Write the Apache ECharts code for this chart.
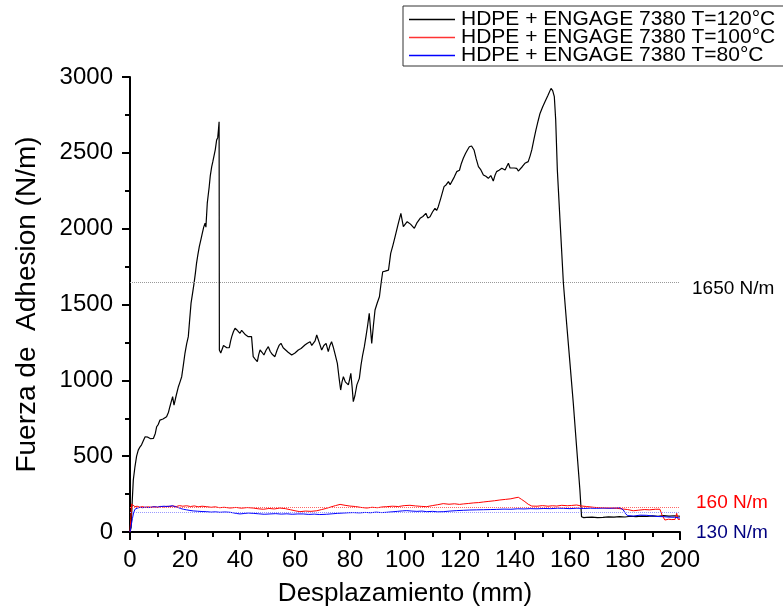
<!DOCTYPE html>
<html>
<head>
<meta charset="utf-8">
<script src="https://cdn.jsdelivr.net/npm/echarts@6/dist/echarts.min.js"></script>
<style>
  html, body { margin: 0; padding: 0; background: #fff; }
  #chart { width: 783px; height: 609px; }
</style>
</head>
<body>
<div id="chart"></div>
<script>
// Series names (legend)
const seriesNames = [
  'HDPE + ENGAGE 7380 T=120°C',
  'HDPE + ENGAGE 7380 T=100°C',
  'HDPE + ENGAGE 7380 T=80°C'
];

// Reference levels (N/m)
const refLevels = [1650, 160, 130];
const refLabels = ['1650 N/m', '160 N/m', '130 N/m'];

// T=120°C  [displacement mm, force N/m]
const black120 = [
  [0,0],[0.4,30],[0.8,200],[1.2,343],[1.8,430],[2.4,500],[3,540],[3.6,560],[4.2,575],[4.8,600],
  [5.5,628],[6.5,625],[7.5,615],[8.5,617],[9.2,650],[9.7,694],[10.3,710],[10.9,738],[12,745],[13.3,760],
  [14,790],[14.5,826],[15,860],[15.5,892],[16,837],[16.8,900],[17.6,958],[18.2,990],[18.8,1024],[19.4,1100],
  [20,1180],[20.6,1240],[21.2,1288],[21.7,1400],[22.2,1509],[22.8,1580],[23.3,1641],[23.8,1710],[24.2,1773],[24.7,1830],
  [25.2,1881],[25.8,1930],[26.3,1970],[26.8,2010],[27.3,2036],[27.6,2010],[28.1,2168],[28.5,2230],[28.8,2276],[29.2,2350],
  [29.7,2408],[30.1,2440],[30.5,2452],[31,2520],[31.5,2584],[31.9,2600],[32.2,2660],[32.4,2705],[32.5,1200],[33,1180],
  [33.6,1190],[34,1230],[34.5,1222],[35.2,1215],[36.1,1215],[36.6,1260],[37,1288],[37.6,1320],[38.2,1343],[39,1330],
  [40,1310],[40.6,1330],[41.2,1343],[42,1300],[43,1288],[43.6,1300],[44.2,1288],[44.8,1156],[45.5,1140],[46.3,1123],
  [46.8,1170],[47.3,1200],[48,1185],[48.7,1167],[49.5,1200],[50.3,1222],[51,1190],[51.8,1170],[52.7,1156],[53.5,1200],
  [54.2,1230],[54.9,1244],[55.7,1215],[56.6,1200],[57.5,1185],[58.8,1167],[60,1180],[61.2,1200],[62.2,1210],[63.6,1233],
  [64.5,1245],[65.5,1255],[66.1,1230],[66.7,1222],[67.3,1260],[67.9,1299],[68.8,1250],[69.7,1200],[70.5,1230],[71.3,1244],
  [72.1,1189],[72.7,1230],[73.3,1255],[73.9,1220],[74.5,1178],[75.4,1112],[76,1020],[76.6,936],[77.1,990],[77.6,1024],
  [78.3,990],[79.4,970],[79.9,1010],[80.3,1046],[80.8,950],[81.2,859],[81.8,900],[82.5,970],[83.4,1013],[84,1100],
  [84.6,1167],[85.2,1220],[85.8,1288],[86.4,1360],[87,1442],[87.5,1330],[87.9,1244],[88.5,1360],[89.1,1464],[89.9,1510],
  [90.7,1551],[91.3,1640],[91.9,1716],[92.8,1720],[94,1727],[94.8,1837],[95.6,1890],[96.4,1947],[97.5,2030],[98.5,2101],
  [99.4,2013],[100.1,2030],[100.8,2046],[102,2030],[103.4,2002],[104.4,2040],[105.5,2068],[106.5,2080],[107.6,2101],[108.3,2070],
  [109.1,2079],[110,2110],[110.9,2134],[111.5,2120],[112.1,2145],[113,2200],[114.2,2277],[115,2290],[115.8,2310],[116.4,2290],
  [117,2299],[117.9,2340],[118.8,2376],[119.8,2385],[120.5,2430],[121.2,2464],[122,2495],[122.7,2519],[123.4,2540],[124.2,2545],
  [125.1,2519],[125.9,2460],[126.7,2409],[127.6,2387],[128.5,2354],[129.4,2345],[130.3,2332],[131.2,2350],[132.1,2314],[132.7,2350],
  [133.3,2376],[134.2,2385],[135.2,2398],[136.4,2387],[137,2410],[137.6,2431],[138.2,2400],[138.8,2387],[139.7,2400],[140.6,2398],
  [141.2,2380],[141.8,2376],[142.7,2410],[143.6,2431],[144.8,2442],[145.5,2480],[146.1,2519],[146.9,2590],[147.6,2650],[148.4,2710],
  [149.1,2760],[150,2800],[150.9,2837],[152,2880],[153.1,2925],[153.7,2910],[154.3,2870],[154.8,2716],[155.4,2386],[156.5,2010],
  [157.6,1640],[158.8,1370],[160,1110],[161.2,849],[162.4,560],[163.6,277],[164.2,101],[165,95],[166,96],[168,98],
  [170,95],[172,97],[174,100],[176,98],[178,101],[180,99],[182,104],[184,102],[186,105],[188,103],
  [190,106],[192,104],[194,108],[196,105],[198,107],[200,104]
];

// T=100°C
const red100 = [
  [0,0],[0.3,90],[0.6,184],[1,175],[1.8,167],[2.6,170],[3.6,163],[4.5,168],[5.5,162],[6.5,166],
  [7.6,163],[8.8,167],[10,163],[11.2,169],[12.4,165],[13.5,170],[14.5,167],[15.6,172],[16.8,168],[18,174],
  [19.2,170],[20.6,173],[22,168],[23.4,172],[24.8,166],[26.2,170],[27.9,167],[29.5,163],[31,166],[32.6,160],
  [34.2,163],[36.4,158],[38.5,162],[40.5,157],[42.6,161],[44.8,158],[46.6,153],[48.5,150],[50.5,155],[52.5,152],
  [54.5,158],[56.5,154],[58.3,147],[60,140],[61.8,134],[63.8,138],[65.8,136],[67.9,140],[69.7,148],[71.5,156],
  [73,165],[74.7,174],[76.4,182],[78.2,176],[80,171],[82,168],[84,162],[86.1,158],[88,163],[90,160],
  [91.6,165],[93.3,167],[95.4,170],[97.6,168],[99.7,174],[101.8,176],[103.8,172],[105.9,169],[107.9,167],[109.9,174],
  [111.9,180],[113.9,187],[116,183],[118,186],[119.8,182],[121.2,185],[123,188],[125,192],[126.8,194],[128.5,198],
  [130.5,202],[132.5,206],[134.5,211],[136.5,215],[138.5,219],[140,225],[141.2,229],[142.4,215],[143.6,200],[144.8,183],
  [146.1,171],[148,170],[150,174],[152,170],[153.6,173],[155.2,171],[157,176],[159,173],[160.6,175],[162.4,178],
  [164,172],[166,168],[168.5,163],[170.5,160],[172.8,158],[175,157],[177,156],[179,152],[181,148],[183,140],
  [185,144],[187,148],[189,146],[191,150],[192.7,150],[193.5,110],[194.5,79],[195.8,84],[197,82],[198.2,83],
  [198.8,123],[199.3,83],[200,84]
];

// T=80°C
const blue80 = [
  [0,0],[0.4,10],[0.9,90],[1.3,125],[1.8,150],[2.6,157],[3.6,163],[4.6,160],[5.6,164],[6.6,161],
  [7.6,163],[8.8,166],[10,164],[11.2,168],[12.4,170],[13.5,168],[14.5,171],[15.4,173],[16.3,167],[17.4,162],
  [18.4,155],[19.4,150],[20.6,146],[21.8,142],[23,139],[24.6,137],[26.2,135],[27.9,134],[29.5,131],[31,133],
  [32.7,130],[34.5,132],[36.4,130],[37.6,126],[38.8,122],[40,119],[41.5,122],[43,125],[44.8,123],[46.8,120],
  [48.8,117],[50.9,119],[53,121],[55,118],[57,120],[59,117],[61,119],[63,119],[65,116],[67,118],
  [69,115],[71.5,117],[73.5,120],[75.5,123],[77.5,125],[79.5,127],[81.2,128],[83.5,126],[85.5,129],[87.5,127],
  [89.5,131],[91.5,128],[93.3,130],[95.3,133],[97.2,136],[99,139],[100.6,141],[102.5,138],[104.3,136],[106.2,138],
  [107.9,134],[110,136],[111.9,133],[113.9,134],[116.4,138],[118.8,141],[121.2,143],[123.6,145],[126,146],[128.5,147],
  [131,148],[133.3,149],[136,151],[138.5,150],[141,153],[143.3,152],[145.5,154],[148,153],[150.5,155],[153,154],
  [155.5,157],[157.6,156],[160,154],[162.5,157],[165,155],[167.4,157],[169.7,156],[172,158],[174.5,157],[176.5,159],
  [178.2,160],[179.4,145],[180.2,120],[181,108],[183,105],[185.5,111],[187.9,110],[190,106],[192,102],[194,101],
  [196,98],[198,97],[199.3,94],[200,92]
];

const FONT = '"Liberation Sans", Arial, sans-serif';

function refLine(value, label, lineColor, textColor, fontSize, offset) {
  return {
    yAxis: value,
    lineStyle: { color: lineColor, type: 'dotted', width: 1 },
    label: {
      show: true,
      position: 'end',
      formatter: label,
      color: textColor,
      fontSize: fontSize,
      fontFamily: FONT,
      distance: 12,
      offset: offset
    }
  };
}

const chart = echarts.init(document.getElementById('chart'));

chart.setOption({
  animation: false,
  backgroundColor: '#fff',
  grid: { left: 130, right: 103, top: 77, bottom: 77, containLabel: false, outerBoundsMode: 'none' },
  legend: {
    orient: 'vertical',
    left: 403,
    top: 6,
    padding: [3, 10, 0, 6],
    icon: 'rect',
    itemWidth: 46,
    itemHeight: 1.5,
    itemGap: -3,
    borderColor: '#333',
    borderWidth: 1,
    textStyle: { fontSize: 21, fontFamily: FONT, color: '#000', padding: [0, 0, 0, 1] },
    data: [
      { name: seriesNames[0], itemStyle: { color: '#000' } },
      { name: seriesNames[1], itemStyle: { color: '#ff3333' } },
      { name: seriesNames[2], itemStyle: { color: '#0000ff' } }
    ]
  },
  xAxis: {
    type: 'value',
    min: 0,
    max: 200,
    interval: 20,
    name: 'Desplazamiento (mm)',
    nameLocation: 'middle',
    nameGap: 49,
    nameTextStyle: { fontSize: 26, fontFamily: FONT, color: '#000' },
    axisLine: { onZero: false, lineStyle: { color: '#000', width: 2 } },
    axisTick: { length: 8, lineStyle: { color: '#000', width: 2 } },
    minorTick: { show: true, splitNumber: 2, length: 5, lineStyle: { color: '#000', width: 2 } },
    axisLabel: { fontSize: 24, fontFamily: FONT, color: '#000', margin: 16 },
    splitLine: { show: false }
  },
  yAxis: {
    type: 'value',
    min: 0,
    max: 3000,
    interval: 500,
    name: 'Fuerza de  Adhesion (N/m)',
    nameLocation: 'middle',
    nameGap: 89,
    nameTextStyle: { fontSize: 28, fontFamily: FONT, color: '#000' },
    axisLine: { show: true, onZero: false, lineStyle: { color: '#000', width: 2 } },
    axisTick: { length: 8, lineStyle: { color: '#000', width: 2 } },
    minorTick: { show: true, splitNumber: 2, length: 5, lineStyle: { color: '#000', width: 2 } },
    axisLabel: { fontSize: 24, fontFamily: FONT, color: '#000', margin: 17, formatter: v => String(v) },
    splitLine: { show: false }
  },
  series: [
    {
      name: seriesNames[0],
      type: 'line',
      data: black120,
      symbol: 'none',
      color: '#000',
      lineStyle: { width: 1.2, color: '#000' },
      z: 2,
      markLine: {
        silent: true,
        symbol: ['none', 'none'],
        data: [refLine(refLevels[0], refLabels[0], '#999', '#000', 19, [0, 7])]
      }
    },
    {
      name: seriesNames[1],
      type: 'line',
      data: red100,
      symbol: 'none',
      color: '#ff0000',
      lineStyle: { width: 1, color: '#ff0000' },
      z: 3,
      markLine: {
        silent: true,
        symbol: ['none', 'none'],
        data: [refLine(refLevels[1], refLabels[1], '#ff6666', '#ff0000', 19, [4, -5])]
      }
    },
    {
      name: seriesNames[2],
      type: 'line',
      data: blue80,
      symbol: 'none',
      color: '#0000ff',
      lineStyle: { width: 1, color: '#0000ff' },
      z: 4,
      markLine: {
        silent: true,
        symbol: ['none', 'none'],
        data: [refLine(refLevels[2], refLabels[2], '#9999ff', '#000080', 19, [4, 20])]
      }
    }
  ]
});

window.addEventListener('resize', () => {
  chart.resize();
});
</script>
</body>
</html>
